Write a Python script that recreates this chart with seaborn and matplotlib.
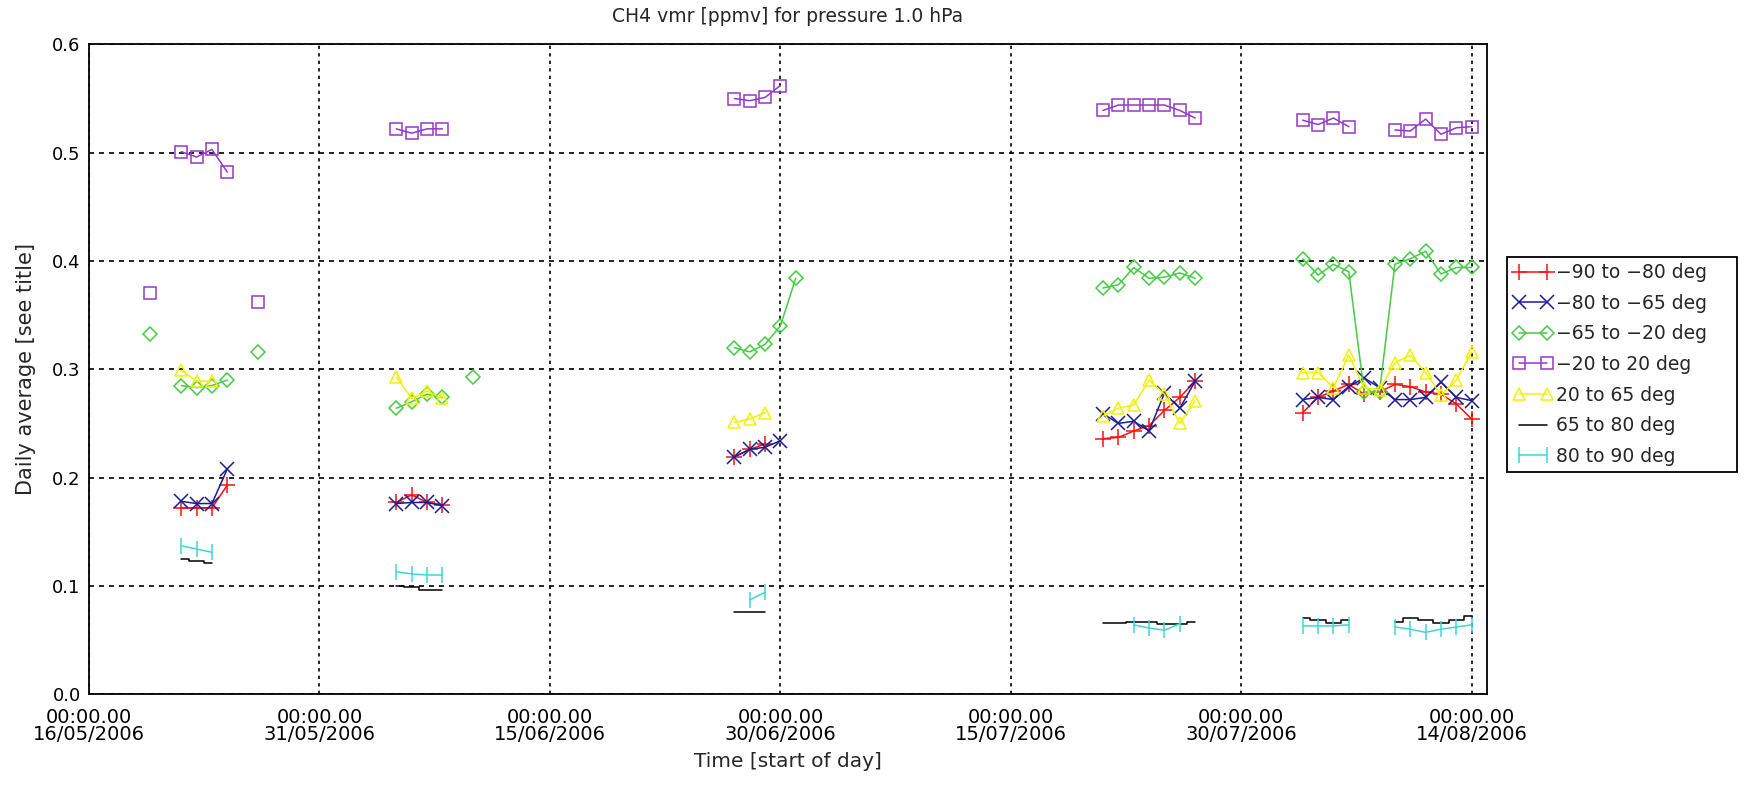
import pandas as pd
import matplotlib
matplotlib.use("Agg")
import matplotlib.pyplot as plt
import matplotlib.dates as mdates
from matplotlib.lines import Line2D
import seaborn as sns

# day offsets counted from 16/05/2006 00:00, daily average CH4 vmr
red_days = [6, 7, 8, 9, 20, 21, 22, 23, 42, 43, 44,
            66, 67, 68, 69, 70, 71, 72,
            79, 80, 81, 82, 83, 84, 85, 86, 87, 88, 89, 90]
red_vals = [0.172, 0.172, 0.172, 0.193, 0.177, 0.184, 0.177, 0.175, 0.219, 0.226, 0.231,
            0.236, 0.237, 0.243, 0.248, 0.262, 0.274, 0.289,
            0.260, 0.274, 0.280, 0.286, 0.277, 0.279, 0.286, 0.284, 0.279, 0.277, 0.268, 0.254]

blue_days = [6, 7, 8, 9, 20, 21, 22, 23, 42, 43, 44, 45,
             66, 67, 68, 69, 70, 71, 72,
             79, 80, 81, 82, 83, 84, 85, 86, 87, 88, 89, 90]
blue_vals = [0.178, 0.176, 0.176, 0.208, 0.176, 0.177, 0.177, 0.174, 0.219, 0.226, 0.228, 0.234,
             0.259, 0.250, 0.252, 0.243, 0.278, 0.264, 0.289,
             0.272, 0.274, 0.272, 0.284, 0.292, 0.283, 0.272, 0.272, 0.274, 0.288, 0.274, 0.271]

green_days = [4, 6, 7, 8, 9, 11, 20, 21, 22, 23, 25, 42, 43, 44, 45, 46,
              66, 67, 68, 69, 70, 71, 72,
              79, 80, 81, 82, 83, 84, 85, 86, 87, 88, 89, 90]
green_vals = [0.333, 0.285, 0.283, 0.285, 0.290, 0.316, 0.264, 0.270, 0.277, 0.274, 0.293,
              0.320, 0.316, 0.323, 0.340, 0.384,
              0.375, 0.378, 0.394, 0.384, 0.385, 0.389, 0.384,
              0.402, 0.387, 0.397, 0.390, 0.279, 0.279, 0.397, 0.402, 0.409, 0.388, 0.394, 0.394]

purple_days = [4, 6, 7, 8, 9, 11, 20, 21, 22, 23, 42, 43, 44, 45,
               66, 67, 68, 69, 70, 71, 72,
               79, 80, 81, 82, 85, 86, 87, 88, 89, 90]
purple_vals = [0.370, 0.501, 0.496, 0.503, 0.482, 0.362, 0.522, 0.518, 0.522, 0.522,
               0.550, 0.548, 0.551, 0.562,
               0.539, 0.544, 0.544, 0.544, 0.544, 0.539, 0.532,
               0.530, 0.526, 0.532, 0.524, 0.521, 0.520, 0.531, 0.517, 0.523, 0.524]

yellow_days = [6, 7, 8, 20, 21, 22, 23, 42, 43, 44,
               66, 67, 68, 69, 70, 71, 72,
               79, 80, 81, 82, 83, 84, 85, 86, 87, 88, 89, 90]
yellow_vals = [0.299, 0.289, 0.289, 0.293, 0.273, 0.280, 0.273, 0.251, 0.254, 0.260,
               0.257, 0.264, 0.267, 0.290, 0.277, 0.250, 0.271,
               0.297, 0.297, 0.283, 0.313, 0.283, 0.281, 0.306, 0.313, 0.297, 0.276, 0.290, 0.316]

black_days = [6, 7, 8, 20, 21, 22, 23, 42, 43, 44,
              66, 67, 68, 69, 70, 71, 72,
              79, 80, 81, 82, 85, 86, 87, 88, 89, 90]
black_vals = [0.125, 0.123, 0.121, 0.100, 0.099, 0.096, 0.096, 0.076, 0.076, 0.076,
              0.066, 0.066, 0.067, 0.067, 0.065, 0.065, 0.067,
              0.070, 0.068, 0.066, 0.068, 0.067, 0.070, 0.068, 0.066, 0.068, 0.072]

cyan_days = [6, 7, 8, 20, 21, 22, 23, 43, 44, 68, 69, 70, 71,
             79, 80, 81, 82, 85, 86, 87, 88, 89, 90]
cyan_vals = [0.137, 0.134, 0.131, 0.113, 0.111, 0.110, 0.110, 0.087, 0.094,
             0.064, 0.061, 0.059, 0.065,
             0.063, 0.063, 0.063, 0.064, 0.062, 0.060, 0.057, 0.060, 0.062, 0.064]

labels = ["\u221290 to \u221280 deg", "\u221280 to \u221265 deg", "\u221265 to \u221220 deg",
          "\u221220 to 20 deg", "20 to 65 deg", "65 to 80 deg", "80 to 90 deg"]
colors = ["#ff1010", "#1c1c96", "#44cc44", "#9438c8", "#f2f200", "#000000", "#3cd8d8"]
markers = ["+", "x", "D", "s", "^", "", "|"]
msizes = [11, 10, 7, 9, 9, 0, 11]
all_days = [red_days, blue_days, green_days, purple_days, yellow_days, black_days, cyan_days]
all_vals = [red_vals, blue_vals, green_vals, purple_vals, yellow_vals, black_vals, cyan_vals]

sns.set_theme(style="white")
plt.rcParams["font.family"] = ["DejaVu Sans"]

start = pd.Timestamp("2006-05-16")
fig = plt.figure(figsize=(17.46, 7.87), dpi=100)
ax = fig.add_axes([0.051, 0.118, 0.8007, 0.8256])

handles = []
for i in range(len(labels)):
    df = pd.DataFrame({"day": all_days[i], "value": all_vals[i]})
    df["time"] = start + pd.to_timedelta(df["day"], unit="D")
    df["seg"] = (df["day"].diff() != 1).cumsum()
    style = "steps-mid" if labels[i] == "65 to 80 deg" else "default"
    sns.lineplot(data=df, x="time", y="value", units="seg", estimator=None, ax=ax,
                 color=colors[i], marker=markers[i], markersize=msizes[i],
                 markeredgecolor=colors[i], markerfacecolor="none", markeredgewidth=1.1,
                 linewidth=1.1, drawstyle=style, legend=False, zorder=3 + i)
    handles.append(Line2D([], [], color=colors[i], marker=markers[i], markersize=msizes[i],
                          markeredgecolor=colors[i], markerfacecolor="none",
                          markeredgewidth=1.1, linewidth=1.1, label=labels[i]))

ax.set_xlim(start, start + pd.Timedelta(days=91))
ax.set_ylim(0, 0.6)
ax.set_xticks([start + pd.Timedelta(days=d) for d in range(0, 91, 15)])
ax.xaxis.set_major_formatter(mdates.DateFormatter("00:00.00\n%d/%m/%Y"))
ax.set_yticks([0.0, 0.1, 0.2, 0.3, 0.4, 0.5, 0.6])
ax.set_yticklabels(["0.0", "0.1", "0.2", "0.3", "0.4", "0.5", "0.6"])
ax.tick_params(axis="x", length=0, labelsize=14, colors="black", pad=10)
ax.tick_params(axis="y", length=0, labelsize=13, colors="black", pad=6)
for lab in ax.get_xticklabels():
    lab.set_linespacing(0.85)

ax.yaxis.grid(True, color="black", linestyle=(0, (3, 3)), linewidth=1.2)
ax.xaxis.grid(True, color="black", linestyle=(0, (2, 2.5)), linewidth=1.2)
for sp in ax.spines.values():
    sp.set_color("black")
    sp.set_linewidth(1.3)

ax.set_title("CH4 vmr [ppmv] for pressure 1.0 hPa", fontsize=13.5, pad=16)
ax.set_xlabel("Time [start of day]", fontsize=14.5, labelpad=6)
ax.set_ylabel("Daily average [see title]", fontsize=15, labelpad=12)

leg = fig.legend(handles=handles, loc="upper left",
                 bbox_to_anchor=(0.863, 0.674, 0.132, 0), mode="expand",
                 numpoints=2, fontsize=13.5, handlelength=2.1, handletextpad=0.2,
                 labelspacing=0.62, borderpad=0.35, borderaxespad=0, fancybox=False,
                 frameon=True, framealpha=1)
leg.get_frame().set_edgecolor("black")
leg.get_frame().set_linewidth(1.3)

fig.savefig("out.png", dpi=100)
